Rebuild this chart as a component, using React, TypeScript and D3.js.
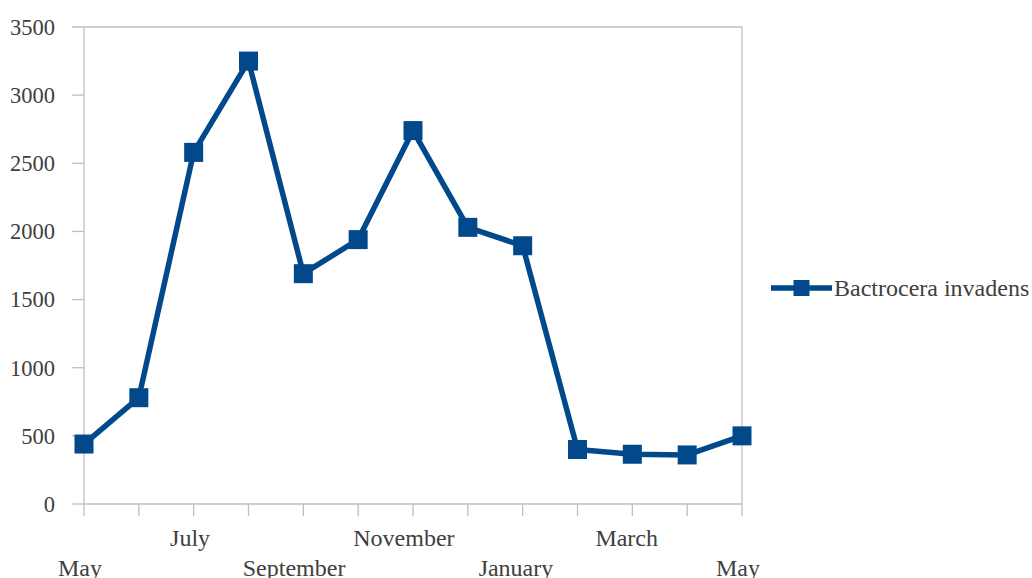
import React from "react";
import * as d3 from "d3";

const months = ["May", "June", "July", "August", "September", "October", "November", "December", "January", "February", "March", "April", "May"];
const shownLabels = [true, false, true, false, true, false, true, false, true, false, true, false, true];
const values = [440, 780, 2580, 3250, 1690, 1940, 2740, 2030, 1895, 400, 365, 360, 500];
const yTicks = [0, 500, 1000, 1500, 2000, 2500, 3000, 3500];
const seriesName = "Bactrocera invadens";

const W = 1032, H = 578;
const M = { left: 84, right: 742, top: 27, bottom: 504 };
const color = "#02498B";
const axisColor = "#BFBFBF";
const textColor = "#404040";
const font = "'Liberation Serif', 'Times New Roman', serif";

export default function App() {
  const x = d3.scalePoint<number>().domain(d3.range(months.length)).range([M.left, M.right]);
  const y = d3.scaleLinear().domain([0, 3500]).range([M.bottom, M.top]);
  const line = d3.line<number>().x((_, i) => x(i)!).y(d => y(d));
  const ms = 19;
  return (
    <svg width={W} height={H} style={{ position: "absolute", left: 0, top: 0, background: "#fff" }}>
      <line x1={M.right} x2={M.right} y1={M.top} y2={M.bottom} stroke={axisColor} strokeWidth={1.3} />
      <line x1={M.left} x2={M.left} y1={M.top} y2={M.bottom} stroke={axisColor} strokeWidth={1.3} />
      {yTicks.map(t => (
        <g key={t}>
          <line x1={72} x2={t === 3500 ? M.right : M.left} y1={y(t)} y2={y(t)} stroke={axisColor} strokeWidth={1.3} />
          <text x={55} y={y(t)} dy="0.35em" textAnchor="end" fontFamily={font} fontSize={22.5} fill={textColor}>{t}</text>
        </g>
      ))}
      <line x1={M.left} x2={M.right} y1={M.bottom} y2={M.bottom} stroke={axisColor} strokeWidth={1.3} />
      {months.map((m, i) => {
        const cx = x(i)!;
        return (
          <g key={i}>
            <line x1={cx} x2={cx} y1={M.bottom} y2={M.bottom + 12} stroke={axisColor} strokeWidth={1.3} />
            {shownLabels[i] && (
              <text
                ref={el => {
                  if (el) {
                    const w = el.getComputedTextLength();
                    el.setAttribute("x", String(cx - 0.59 * w));
                  }
                }}
                x={cx}
                y={(i / 2) % 2 === 1 ? 546 : 576}
                textAnchor="start"
                fontFamily={font}
                fontSize={24}
                fill={textColor}
              >{m}</text>
            )}
          </g>
        );
      })}
      <path d={line(values)!} fill="none" stroke={color} strokeWidth={5.5} strokeLinejoin="round" />
      {values.map((v, i) => (
        <rect key={i} x={x(i)! - ms / 2} y={y(v) - ms / 2} width={ms} height={ms} fill={color} />
      ))}
      <line x1={771} x2={832} y1={288} y2={288} stroke={color} strokeWidth={5.5} />
      <rect x={801.5 - 8} y={288 - 8} width={16} height={16} fill={color} />
      <text x={834} y={296} fontFamily={font} fontSize={24} fill={textColor}>{seriesName}</text>
    </svg>
  );
}
